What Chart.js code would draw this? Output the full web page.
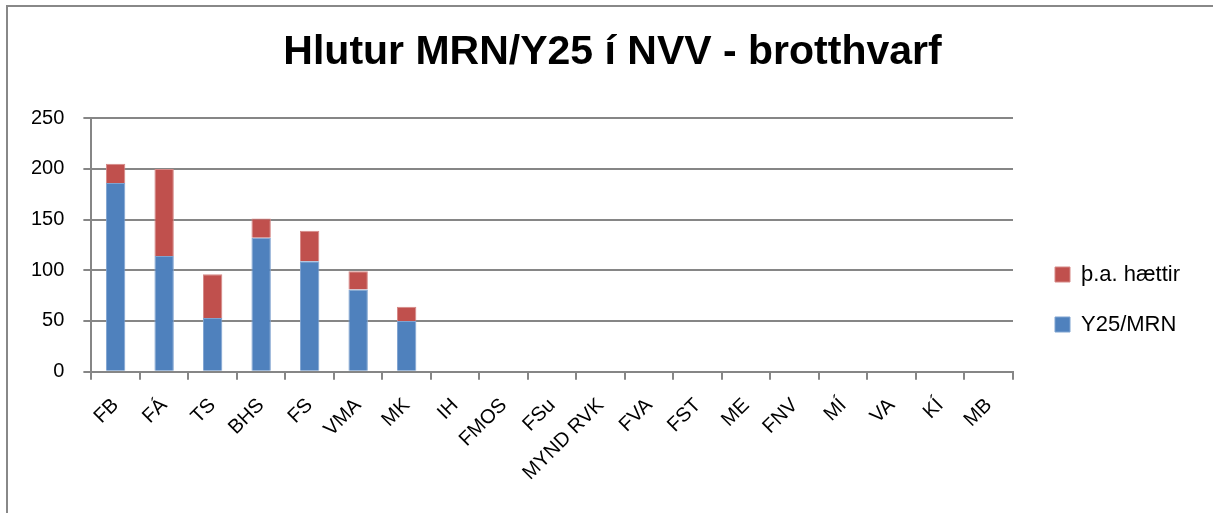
<!DOCTYPE html>
<html>
<head>
<meta charset="utf-8">
<script src="https://cdn.jsdelivr.net/npm/chart.js@4"></script>
<style>
  html, body { margin: 0; padding: 0; background: #fff; }
  #wrap { position: absolute; left: 0; top: 0; width: 1213px; height: 513px; }
  #frame { position: absolute; left: 6px; top: 5px; width: 1300px; height: 600px; border: 2px solid #888; box-sizing: border-box; }
</style>
</head>
<body>
<div id="frame"></div>
<div id="wrap"><canvas id="chart" width="1213" height="513"></canvas></div>
<script>
// skólar
const categories = ['FB', 'FÁ', 'TS', 'BHS', 'FS', 'VMA', 'MK', 'IH', 'FMOS', 'FSu', 'MYND RVK', 'FVA', 'FST', 'ME', 'FNV', 'MÍ', 'VA', 'KÍ', 'MB'];
const y25Values = [186, 114, 53, 132, 109, 81, 50, null, null, null, null, null, null, null, null, null, null, null, null];
const haettirValues = [19, 86, 43, 19, 30, 18, 14, null, null, null, null, null, null, null, null, null, null, null, null];
const yTicks = [0, 50, 100, 150, 200, 250];

const font = "'Liberation Sans', Arial, sans-serif";
const gridColor = '#868686';

// legend fast breidd og færð aðeins til hægri/niður
const legendShift = {
    id: 'legendShift',
    beforeLayout(chart) {
        const lg = chart.legend;
        if (lg && !lg._wrapped) {
            const fit = lg.fit.bind(lg);
            lg.fit = function() { fit(); this.width = 200; };
            lg._wrapped = true;
        }
    },
    afterLayout(chart) {
        const lg = chart.legend;
        if (lg) { lg.left += 14; lg.right += 14; lg.top += 36; lg.bottom += 36; }
    }
};

new Chart(document.getElementById('chart'), {
    type: 'bar',
    data: {
        labels: categories,
        datasets: [
            { label: 'Y25/MRN', data: y25Values, backgroundColor: '#4f81bd', borderColor: '#7fa3d0', borderWidth: 1, borderSkipped: 'bottom', barPercentage: 0.4, categoryPercentage: 1 },
            { label: 'þ.a. hættir', data: haettirValues, backgroundColor: '#c0504d', borderColor: '#d58886', borderWidth: 1, borderSkipped: 'bottom', barPercentage: 0.4, categoryPercentage: 1 }
        ]
    },
    options: {
        responsive: false,
        animation: false,
        layout: { padding: { left: 12, right: 0, top: 28, bottom: 14 } },
        scales: {
            x: {
                stacked: true,
                afterFit: scale => { scale.paddingLeft = 0; },
                grid: { display: true, drawOnChartArea: false, drawTicks: true, tickLength: 8, color: gridColor, lineWidth: 2, offset: true },
                border: { color: gridColor, width: 2 },
                ticks: { color: '#000', font: { family: font, size: 20 }, minRotation: 45, maxRotation: 45, padding: 14, autoSkip: false }
            },
            y: {
                stacked: true,
                min: 0, max: 250,
                afterBuildTicks: axis => { axis.ticks = yTicks.map(v => ({ value: v })); },
                grid: { color: gridColor, lineWidth: 2, tickLength: 8 },
                border: { color: gridColor, width: 2 },
                ticks: { color: '#000', font: { family: font, size: 20 }, padding: 19 }
            }
        },
        plugins: {
            title: { display: true, text: 'Hlutur MRN/Y25 í NVV - brotthvarf', color: '#000', font: { family: font, size: 41, weight: 'bold' }, padding: { top: 0, bottom: 41 } },
            legend: {
                position: 'right',
                reverse: true,
                labels: { color: '#000', font: { family: font, size: 22 }, boxWidth: 15, boxHeight: 15, padding: 28 }
            },
            tooltip: { enabled: false }
        }
    },
    plugins: [legendShift]
});
</script>
</body>
</html>
